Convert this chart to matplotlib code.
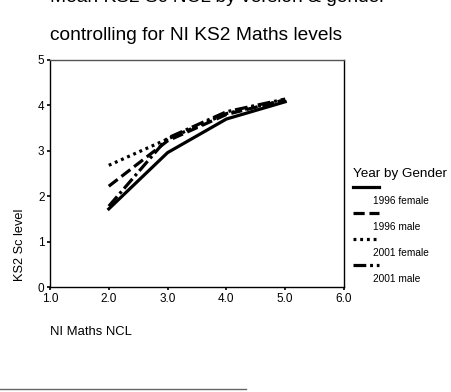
import matplotlib.pyplot as plt
from matplotlib.lines import Line2D

plt.rcParams['font.family'] = ['Liberation Sans', 'DejaVu Sans']

# --- data ---
maths_ncl = [2.0, 3.0, 4.0, 5.0]
female_1996 = [1.72, 2.96, 3.70, 4.08]
male_1996 = [2.22, 3.22, 3.80, 4.12]
female_2001 = [2.68, 3.26, 3.82, 4.12]
male_2001 = [1.78, 3.28, 3.86, 4.14]

series_labels = ['1996 female', '1996 male', '2001 female', '2001 male']
x_ticks = [1.0, 2.0, 3.0, 4.0, 5.0, 6.0]
y_ticks = [0, 1, 2, 3, 4, 5]

styles = [
    dict(linestyle='-'),
    dict(linestyle=(0, (3.5, 1.5))),
    dict(linestyle=(0, (0.9, 1.2))),
    dict(linestyle=(0, (4, 1.2, 0.9, 1.2))),
]

fig = plt.figure(figsize=(4.52, 3.92), dpi=100)
ax = fig.add_axes([50 / 452, 1 - 287 / 392, 294 / 452, 227 / 392])

for ys, st in zip([female_1996, male_1996, female_2001, male_2001], styles):
    ax.plot(maths_ncl, ys, color='black', linewidth=2.3, **st)

ax.set_xlim(1.0, 6.0)
ax.set_ylim(0, 5)
ax.set_xticks(x_ticks)
ax.set_xticklabels([f'{v:.1f}' for v in x_ticks])
ax.set_yticks(y_ticks)
ax.tick_params(labelsize=8.5, length=2, width=1.2, pad=2)
for sp in ax.spines.values():
    sp.set_linewidth(1)
ax.spines['top'].set_color('#555555')

# titles / axis labels placed like the original
fig.text(50 / 452, 1 - (-2) / 392, 'Mean KS2 Sc NCL by version & gender',
         fontsize=13.8, ha='left', va='center')
fig.text(50 / 452, 1 - 36 / 392, 'controlling for NI KS2 Maths levels',
         fontsize=13.8, ha='left', va='center')
fig.text(20 / 452, 1 - 245 / 392, 'KS2 Sc level', fontsize=9.2,
         rotation=90, ha='center', va='center')
fig.text(50 / 452, 1 - 332 / 392, 'NI Maths NCL', fontsize=9.4,
         ha='left', va='center')

# legend: handle above label
fig.text(353 / 452, 1 - 174 / 392, 'Year by Gender', fontsize=9.7,
         ha='left', va='center')
for i, (lab, st) in enumerate(zip(series_labels, styles)):
    yl = 187 + 26 * i
    fig.add_artist(Line2D([353 / 452, 379 / 452], [1 - yl / 392, 1 - yl / 392],
                          color='black', linewidth=2.3,
                          transform=fig.transFigure, **st))
    fig.text(373 / 452, 1 - (yl + 14) / 392, lab, fontsize=7.3,
             ha='left', va='center')

# stray rule at bottom of the page
fig.add_artist(Line2D([0, 246 / 452], [1 - 389 / 392, 1 - 389 / 392],
                      color='#666666', linewidth=1, transform=fig.transFigure))

fig.savefig('out.png', dpi=100)
